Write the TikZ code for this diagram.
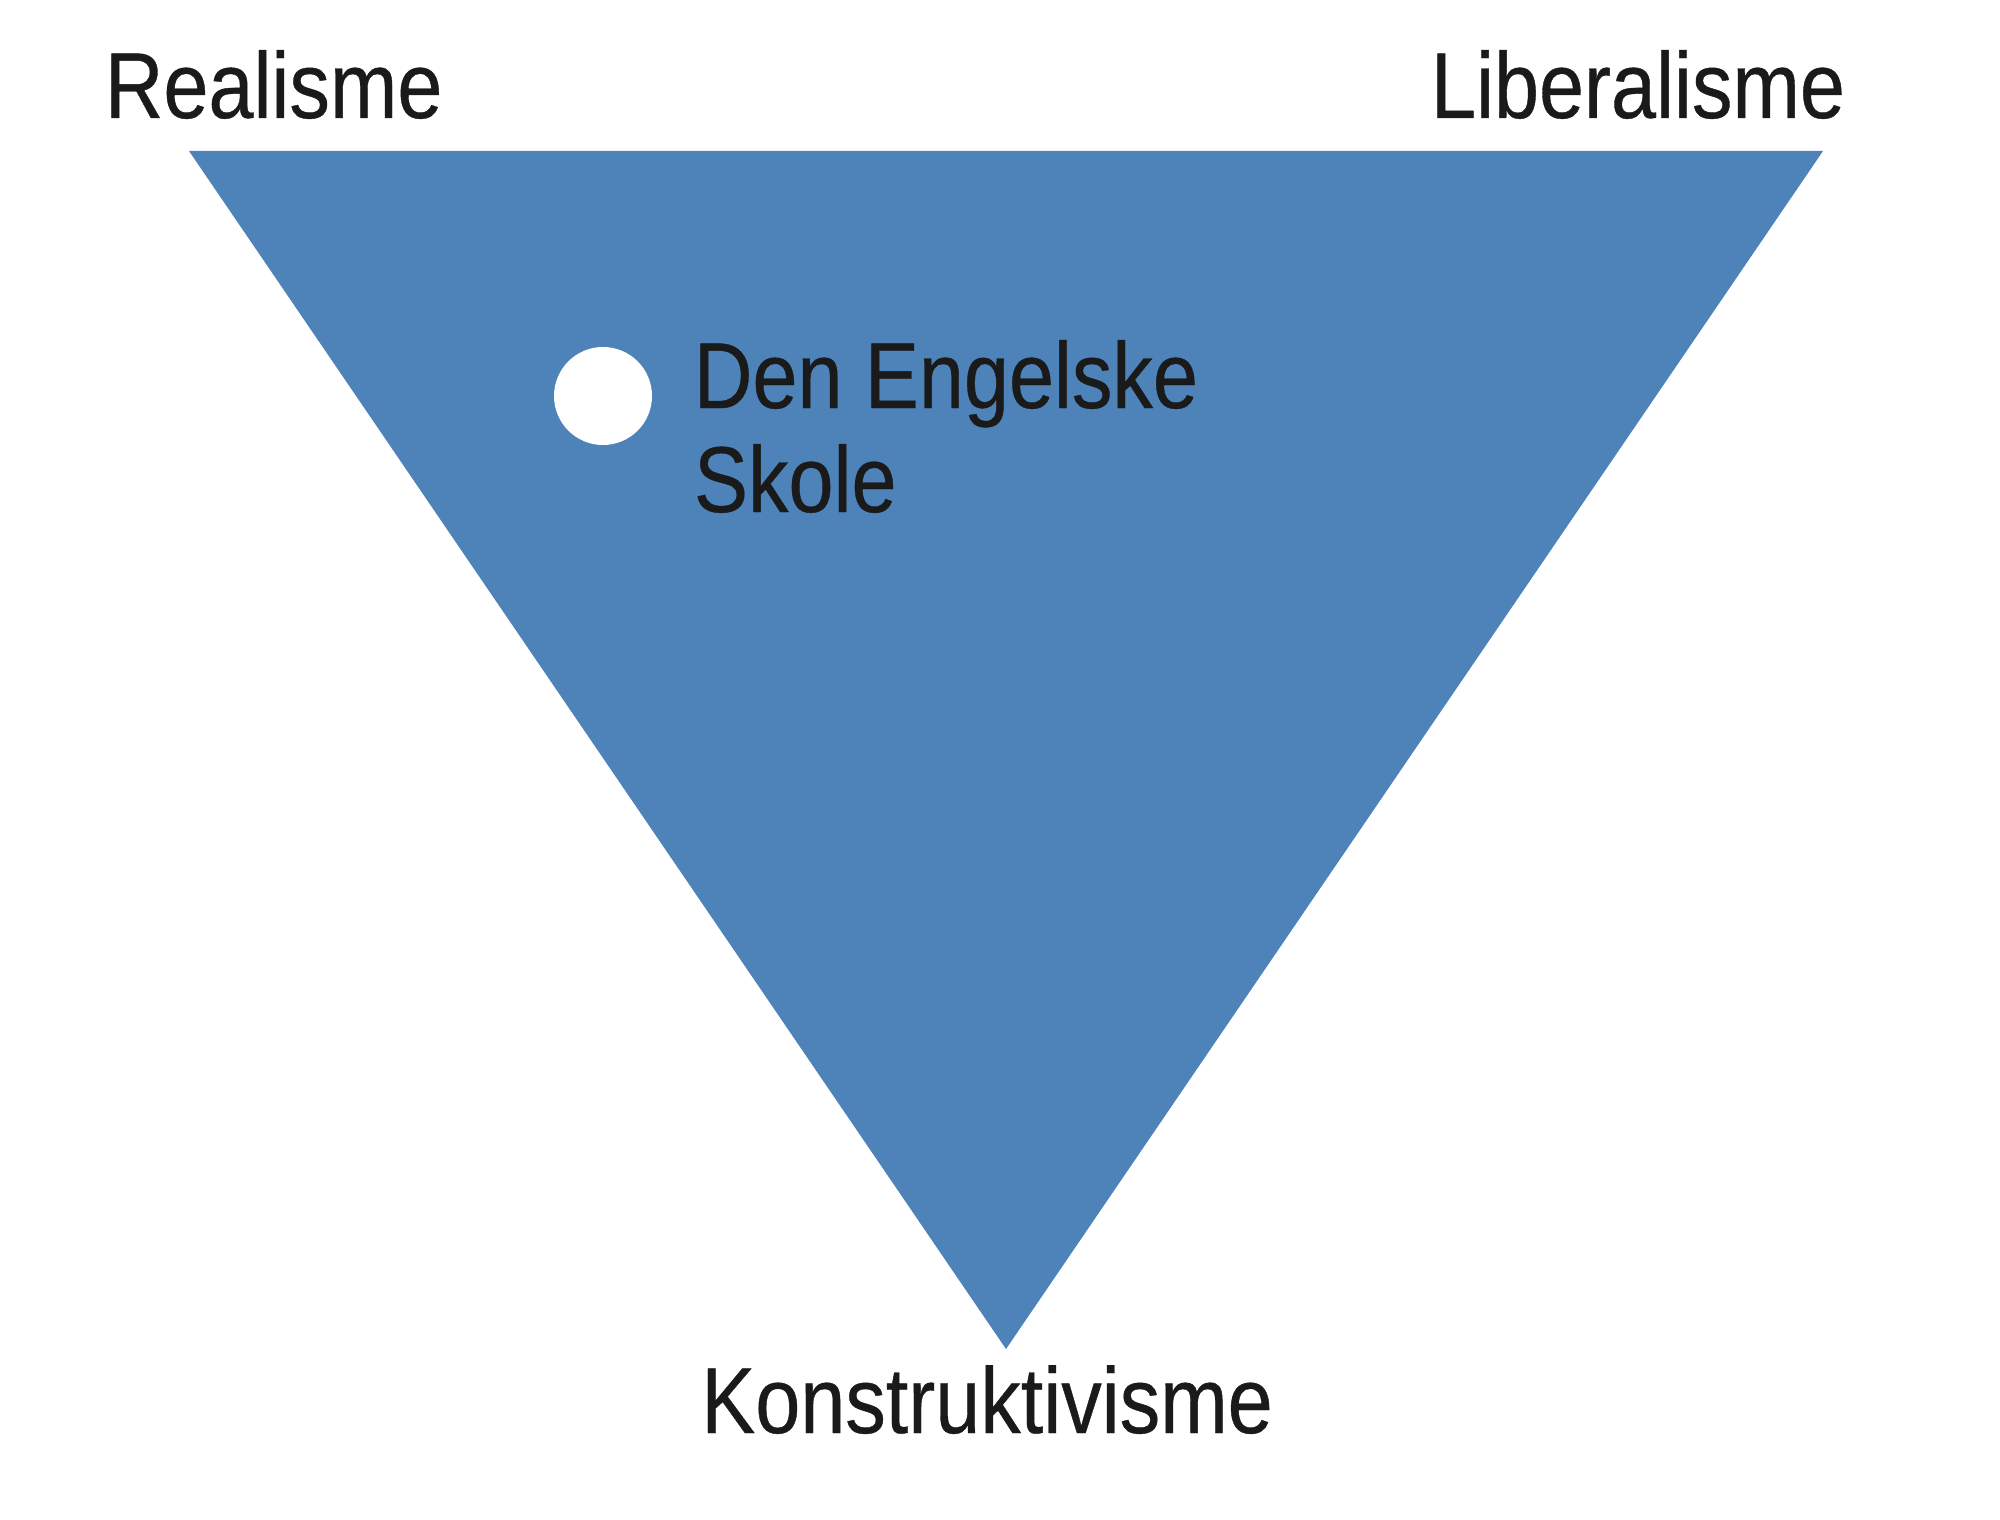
\documentclass[tikz,border=0pt]{standalone}
\usepackage{fontspec}
\setmainfont{Liberation Sans}[FakeStretch=0.865,FakeBold=0.4]
\definecolor{triblue}{RGB}{78,131,186}
\definecolor{txt}{RGB}{26,26,26}
\begin{document}
\begin{tikzpicture}[x=0.5pt,y=-0.5pt,
  lbl/.style={inner sep=0pt,outer sep=0pt,text=txt,font=\fontsize{46.8pt}{52pt}\selectfont}]
\useasboundingbox (0,0) rectangle (2000,1519);
\coordinate (tl) at (189,151);
\coordinate (tr) at (1823,151);
\coordinate (bt) at (1006,1349);
\fill[triblue] (tl) -- (tr) -- (bt) -- cycle;
\fill[white] (603,396) circle[radius=49] coordinate (dot);
\node[lbl,anchor=base west] (real) at (105,118) {Realisme};
\node[lbl,anchor=base east] (lib) at (1845,118) {Liberalisme};
\node[lbl,anchor=base] (kon) at (987,1433) {Konstruktivisme};
\node[lbl,anchor=base west,align=left] (des) at (694,512) {Den Engelske\\Skole};
\end{tikzpicture}
\end{document}
